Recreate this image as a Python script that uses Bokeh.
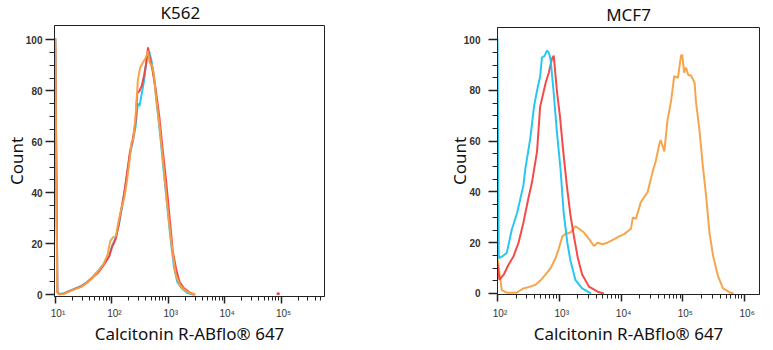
from bokeh.plotting import figure
from bokeh.layouts import row
from bokeh.models import FixedTicker, Range1d
from bokeh.embed import file_html
from bokeh.resources import INLINE

nan = float("nan")

# ---------------- data: K562 ----------------
k562_cyan_x = [9.9, 10.8, 11.5, 14.1, 20.0, 28.2, 35.5, 44.7, 56.2, 70.8, 89.1, 100, 117.5, 131.8,
               147.9, 166, 186.2, 208.9, 234.4, 263, 288.4, 309, 338.8, 371.5, 416.9, 457.1, 501.2,
               562.3, 631, 724.4, 831.8, 955, 1096, 1259, 1445, 1738, 2138, 2818]
k562_cyan_y = [100.5, 1.2, 0.3, 0.6, 2.0, 3.4, 4.8, 6.8, 9.2, 12.0, 15, 19, 22.5, 27,
               33, 40, 47, 55, 60, 66, 75, 74, 79, 84, 93, 95.5, 92,
               85, 74, 62, 48, 35, 22, 11, 5, 2.5, 0.8, 0]

k562_red_x = [9.9, 10.8, 11.5, 14.1, 20.0, 28.2, 35.5, 44.7, 56.2, 70.8, 89.1, 100, 117.5, 131.8,
              147.9, 166, 186.2, 208.9, 234.4, 263, 281.8, 309, 338.8, 371.5, 407.4, 436.5, 467.7,
              524.8, 602.6, 691.8, 794.3, 912, 1047, 1202, 1380, 1585, 1905, 2344, 2951,
              nan, 85000, 89000, 93000]
k562_red_y = [100.5, 1.0, 0.2, 0.4, 1.9, 3.2, 4.6, 6.6, 8.5, 11.5, 15, 18.5, 22, 27.5,
              34, 40, 48, 56, 61, 68, 79, 80, 82, 86, 91, 97, 93,
              88, 80, 70, 57, 45, 31, 17, 10, 5, 2.5, 1, 0,
              nan, 0, 0.8, 0]

k562_orange_x = [9.9, 10.7, 11.5, 14.1, 20.0, 28.2, 35.5, 44.7, 56.2, 70.8, 83.2, 93.3, 104.7, 117.5,
                 131.8, 147.9, 166.0, 186.2, 208.9, 223.9, 239.9, 263.0, 288.4, 316.2, 354.8, 398.1,
                 436.5, 467.7, 512.9, 549.5, 602.6, 691.8, 794.3, 912.0, 1047, 1202, 1349, 1585,
                 1905, 2344, 3020]
k562_orange_y = [100.5, 1.0, 0.2, 0.3, 1.8, 3.0, 4.5, 6.5, 9.0, 12.0, 15.5, 21.0, 22.5, 23.0,
                 29, 34, 38, 45, 54, 60, 61, 70, 84, 89, 91, 93,
                 95.5, 91, 90, 87, 78, 67, 54, 40, 27, 16, 8, 4,
                 2, 0.8, 0]

# ---------------- data: MCF7 ----------------
mcf7_cyan_x = [100, 104.7, 117.5, 141.3, 169.8, 208.9, 263, 281.8, 338.8, 389, 436.5, 489.8, 524.8,
               575.4, 631, 676, 724.4, 812.8, 912, 1047, 1175, 1349, 1514, 1820, 2344, 3236]
mcf7_cyan_y = [100.5, 14, 14.5, 16, 25, 32, 42.7, 49, 61, 73.5, 80, 85.5, 93,
               93.5, 95.7, 95, 92, 79, 64, 49, 32, 20, 13, 5.4, 2, 0]

mcf7_red_x = [100, 107.2, 117.5, 125.9, 151.4, 182, 218.8, 263, 316.2, 363.1, 436.5, 489.8, 602.6,
              676, 758.6, 812.8, 922.6, 1023, 1148, 1318, 1514, 1738, 1995, 2344, 3020, 4169, 5248]
mcf7_red_y = [12, 5.5, 6.5, 7.4, 11.4, 14.7, 20, 28, 37.5, 44, 56, 73.6, 83,
              87, 92.4, 93.7, 79, 70, 57, 43, 31, 22, 14, 7.5, 2.7, 0.7, 0]

mcf7_orange_x = [100, 104.7, 117.5, 141.3, 204.2, 263, 338.8, 416.9, 489.8, 602.6, 724.4, 871, 977,
                 1122, 1259, 1514, 1820, 2089, 2512, 3020, 3631, 4169, 5012, 6026, 7762, 9333,
                 11220, 13183, 14454, 15488, 17378, 20893, 26915, 32359, 36308, 41687, 43652,
                 50119, 56234, 64565, 72444, 83176, 93325, 97724, 104713, 112202, 123027, 134896,
                 154882, 162181, 186209, 208930, 239883, 269153, 309030, 371535, 446684, 575440,
                 660693]
mcf7_orange_y = [14, 10, 1.3, 0.3, 0.3, 2.0, 2.7, 3.5, 5.0, 7.5, 10, 14, 17.5,
                 22.5, 23.5, 24, 26.5, 25.5, 24, 21.5, 18.7, 20, 19.4, 20, 21.4, 22.5,
                 23.4, 24.7, 25.5, 30, 29.4, 36, 40, 48, 52, 59, 60.5,
                 56, 68, 76, 85.6, 85, 93.7, 94, 87, 89, 86, 86,
                 83, 76, 64, 51, 37.5, 24, 14.7, 6.7, 2.0, 0.4,
                 0]

# ---------------- axis ticks / labels ----------------
y_ticks = [0, 20, 40, 60, 80, 100]
y_minor = [5, 10, 15, 25, 30, 35, 45, 50, 55, 65, 70, 75, 85, 90, 95]
k562_x_ticks = [1e1, 1e2, 1e3, 1e4, 1e5]
k562_x_labels = ["10¹", "10²", "10³", "10⁴", "10⁵"]
mcf7_x_ticks = [1e2, 1e3, 1e4, 1e5, 1e6]
mcf7_x_labels = ["10²", "10³", "10⁴", "10⁵", "10⁶"]

CYAN = "#1fc3ef"
RED = "#f2413f"
ORANGE = "#f7a043"
XLABEL = "Calcitonin R-ABflo® 647"
YLABEL = "Count"
FONT = "Noto Sans"


def minor_log(lo_exp, hi_exp):
    out = []
    for e in range(lo_exp, hi_exp + 1):
        for m in range(2, 10):
            out.append(m * 10.0 ** e)
    return out


def make_panel(title, xr, yr, width, mb, x_ticks, x_labels, minor, series,
               title_align, title_offset, shift, bottom_margin,
               ytick_standoff, ylab_standoff, xtick_standoff, xlab_standoff):
    # the figure is shifted upward (negative top margin) so the title sits near the window top
    p = figure(width=width, height=350 + shift + bottom_margin, x_axis_type="log",
               x_range=Range1d(*xr), y_range=Range1d(*yr),
               output_backend="svg", toolbar_location=None,
               margin=(-shift, 0, -bottom_margin, 0),
               min_border_left=mb[0], min_border_right=mb[1],
               min_border_top=mb[2], min_border_bottom=mb[3])
    p.title.text = title
    p.title.align = title_align
    p.title.offset = title_offset
    p.title.vertical_align = "top"
    p.title.text_font = FONT
    p.title.text_font_size = "17px"
    p.title.text_font_style = "normal"
    p.title.text_color = "#111111"
    p.title.standoff = 0

    p.grid.visible = False
    p.outline_line_color = "#222222"
    p.outline_line_width = 1
    p.outline_line_alpha = 1
    p.background_fill_color = "white"
    p.border_fill_color = "white"

    xa = p.xaxis[0]
    xa.ticker = FixedTicker(ticks=x_ticks, minor_ticks=minor)
    xa.major_label_overrides = {t: "\u2002" + l for t, l in zip(x_ticks, x_labels)}
    xa.major_label_text_align = "left"
    xa.major_label_text_font = "Liberation Sans"
    xa.major_label_text_font_size = "10px"
    xa.major_label_text_color = "#333333"
    xa.major_label_standoff = xtick_standoff
    xa.major_tick_out = 7
    xa.major_tick_in = 0
    xa.minor_tick_out = 4
    xa.minor_tick_in = 0
    xa.major_tick_line_width = 1.5
    xa.axis_line_color = "#222222"
    xa.major_tick_line_color = "#222222"
    xa.minor_tick_line_color = "#222222"
    xa.axis_label = XLABEL
    xa.axis_label_text_font = FONT
    xa.axis_label_text_font_size = "17px"
    xa.axis_label_text_font_style = "normal"
    xa.axis_label_text_color = "#111111"
    xa.axis_label_standoff = xlab_standoff

    ya = p.yaxis[0]
    ya.ticker = FixedTicker(ticks=y_ticks, minor_ticks=y_minor)
    ya.major_label_text_font = "Liberation Sans"
    ya.major_label_text_font_size = "10px"
    ya.major_label_text_font_style = "bold"
    ya.major_label_text_color = "#333333"
    ya.major_label_standoff = ytick_standoff
    ya.major_tick_out = 9
    ya.major_tick_in = 0
    ya.minor_tick_out = 5
    ya.minor_tick_in = 0
    ya.major_tick_line_width = 1.5
    ya.axis_line_color = "#222222"
    ya.major_tick_line_color = "#222222"
    ya.minor_tick_line_color = "#222222"
    ya.axis_label = YLABEL
    ya.axis_label_text_font = FONT
    ya.axis_label_text_font_size = "17px"
    ya.axis_label_text_font_style = "normal"
    ya.axis_label_text_color = "#111111"
    ya.axis_label_standoff = ylab_standoff

    for xs, ys, c in series:
        p.line(xs, ys, line_color=c, line_width=2, line_alpha=0.95)
    return p


# target frame: x 54..324, y 25..296
left = make_panel("K562", (10 ** 0.982, 10 ** 5.77), (-0.7, 105.6), 386, (54, 62, 25, 54),
                  k562_x_ticks, k562_x_labels, minor_log(1, 5),
                  [(k562_cyan_x, k562_cyan_y, CYAN), (k562_red_x, k562_red_y, RED),
                   (k562_orange_x, k562_orange_y, ORANGE)],
                  title_align="left", title_offset=106, shift=7, bottom_margin=2,
                  ytick_standoff=3, ylab_standoff=-5, xtick_standoff=4, xlab_standoff=0)

# target frame: x 497..759, y 32..294
right = make_panel("MCF7", (10 ** 2.0, 10 ** 6.24), (-0.4, 104.8), 387, (111, 14, 32, 56),
                   mcf7_x_ticks, mcf7_x_labels, minor_log(2, 6),
                   [(mcf7_orange_x, mcf7_orange_y, ORANGE), (mcf7_red_x, mcf7_red_y, RED),
                    (mcf7_cyan_x, mcf7_cyan_y, CYAN)],
                   title_align="center", title_offset=0, shift=5, bottom_margin=0,
                   ytick_standoff=8, ylab_standoff=-10, xtick_standoff=6, xlab_standoff=0)

layout = row(left, right)
open("out.html", "w").write(file_html(layout, INLINE))
